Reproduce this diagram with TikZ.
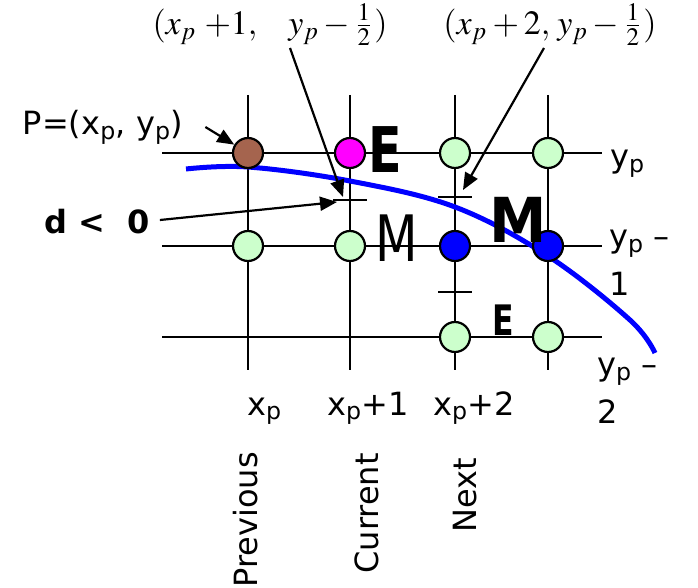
\documentclass[tikz,border=0pt]{standalone}
\usepackage{mathptmx}
\usepackage[no-math]{fontspec}
\setmainfont{DejaVu Sans}
\usetikzlibrary{arrows.meta}
\definecolor{mint}{HTML}{CCFFCC}
\definecolor{umber}{HTML}{A5644E}
\definecolor{fuchsia}{HTML}{FF00FF}
\definecolor{pureblue}{HTML}{0000FF}

\begin{document}
\begin{tikzpicture}[
  x=1pt, y=-1pt,
  >={Triangle[length=17pt, width=14pt]},
  gridline/.style={line width=2.2pt},
  dot/.style={circle, draw, line width=2.2pt, fill=#1,
    minimum size=30pt, inner sep=0pt},
  lbl/.style={font=\fontsize{32}{38}\selectfont, inner sep=0pt, align=left},
  mathlbl/.style={font=\fontsize{10}{12}\selectfont, inner sep=0pt},
  bigletter/.style={font=\fontsize{#1}{#1}\selectfont, inner sep=0pt},
  arr/.style={->, line width=2.2pt},
]

\useasboundingbox (0,0) rectangle (698,588);

% ===== Grid =====
\draw[gridline] (162,153) -- (602,153);
\draw[gridline] (162,246) -- (602,246);
\draw[gridline] (162,337) -- (602,337);
\draw[gridline] (248,95) -- (248,370);
\draw[gridline] (350,95) -- (350,370);
\draw[gridline] (455,95) -- (455,370);
\draw[gridline] (548,95) -- (548,370);

% Midpoints
\coordinate (m1) at (350,200);
\coordinate (m2) at (455,197);
\coordinate (m3) at (455,292);
\draw[gridline] ([xshift=-17pt]m1) -- ([xshift=17pt]m1);
\draw[gridline] ([xshift=-17pt]m2) -- ([xshift=17pt]m2);
\draw[gridline] ([xshift=-17pt]m3) -- ([xshift=17pt]m3);

% Circle arc
\draw[pureblue, line width=5pt]
  plot[smooth, tension=0.6] coordinates {(186,169) (248,167) (350,181)
    (455,207) (548,256) (630,320) (655,353)};

% ===== Pixels =====
\node[dot=umber]    (c11) at (248,153) {};
\node[dot=fuchsia]  (c12) at (350,153) {};
\node[dot=mint]     (c13) at (455,153) {};
\node[dot=mint]     (c14) at (548,153) {};
\node[dot=mint]     (c21) at (248,246) {};
\node[dot=mint]     (c22) at (350,246) {};
\node[dot=pureblue] (c23) at (455,246) {};
\node[dot=pureblue] (c24) at (548,246) {};
\node[dot=mint]     (c33) at (455,337) {};
\node[dot=mint]     (c34) at (548,337) {};

% E / M letters
\node[bigletter=63] (eone) at (385,150) {\scalebox{0.78}[1]{\bfseries E}};
\node[bigletter=64] (mone) at (397,238) {\scalebox{0.77}[1]{M}};
\node[bigletter=62] (mtwo) at (518,220) {\scalebox{0.93}[1]{\bfseries M}};
\node[bigletter=42] (etwo) at (503,320) {\scalebox{0.75}[1]{\bfseries E}};

% ===== Labels =====
\node[mathlbl] (mid1) at (270,25)
  {\scalebox{3.4}{$(x_{p}\;{+}1,\hspace{8pt}y_{p}\,{-}\,\frac{1}{2})$}};
\node[mathlbl] (mid2) at (550,25)
  {\scalebox{3.4}{$(x_{p} + 2,\hspace{1pt}y_{p}\,{-}\,\frac{1}{2})$}};
\node[lbl] (plbl) at (103,127) {P=(x\textsubscript{p}, y\textsubscript{p})};
\node[lbl, font=\fontsize{32}{38}\selectfont\bfseries] (dlbl) at (97,222) {d <\ \ 0};

\node[lbl, anchor=north west] (row1) at (610,150) {y\textsubscript{p}};
\node[lbl, anchor=north west] (row2) at (609,230) {y\textsubscript{p} –\\[10pt]1};
\node[lbl, anchor=north west] (row3) at (597,358) {y\textsubscript{p} –\\[10pt]2};

\node[lbl, anchor=base west] (col1) at (247,415) {x\textsubscript{p}};
\node[lbl, anchor=base west] (col2) at (327,415) {x\textsubscript{p}+1};
\node[lbl, anchor=base west] (col3) at (433,415) {x\textsubscript{p}+2};

\node[lbl, rotate=90, anchor=east] (prev) at (246,452) {Previous};
\node[lbl, rotate=90, anchor=east] (curr) at (367,453) {Current};
\node[lbl, rotate=90, anchor=east] (next) at (465,458) {Next};

% ===== Arrows =====
\coordinate (s1) at (290,48);
\coordinate (s2) at (544,48);
\coordinate (t1) at (343,197);
\coordinate (t2) at (463,190);
\coordinate (t3) at (337,202);
\draw[arr] ([xshift=22pt]plbl.east) -- (c11);
\draw[arr] (s1) -- (t1);
\draw[arr] (s2) -- (t2);
\draw[arr] ([xshift=10pt, yshift=2pt]dlbl.east) -- (t3);

\end{tikzpicture}
\end{document}
